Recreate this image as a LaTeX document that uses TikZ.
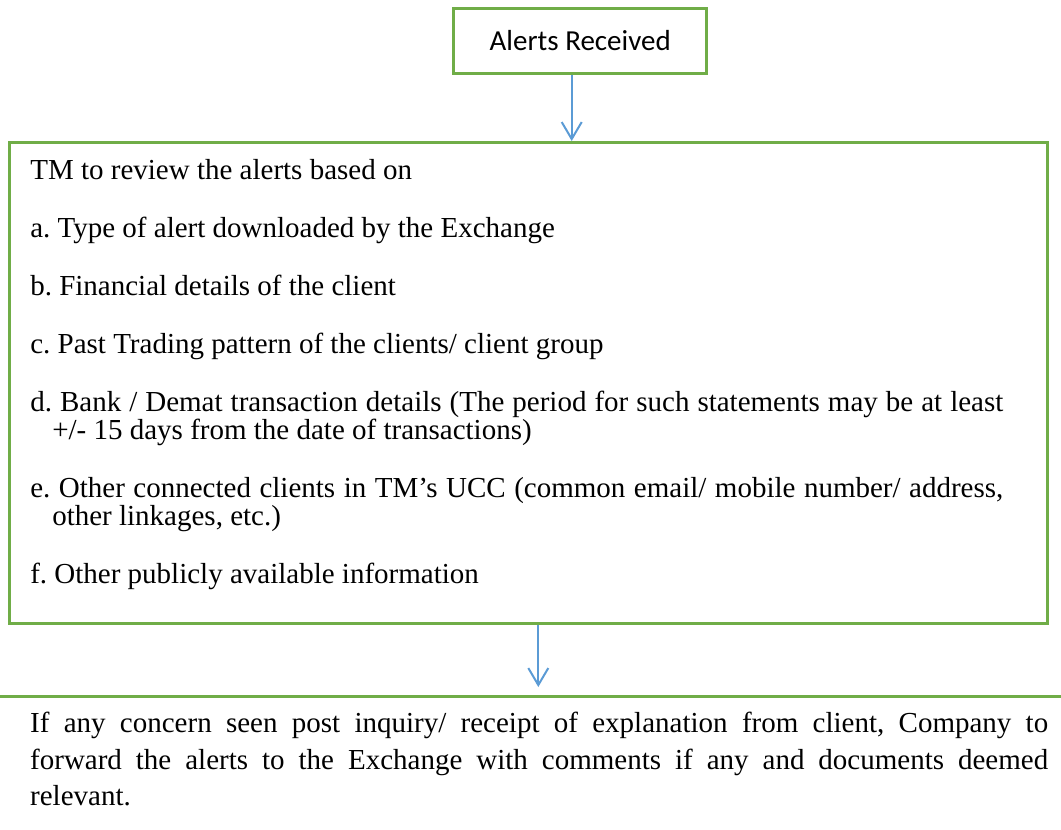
\documentclass[tikz,border=0pt]{standalone}
\usepackage{fontspec}
\setmainfont{Liberation Serif}
\newfontfamily\labelfont{Carlito}
\usetikzlibrary{positioning,calc,arrows.meta}

\definecolor{boxgreen}{RGB}{112,173,71}
\definecolor{flowblue}{RGB}{91,155,213}
\newcommand*{\bodytext}{\fontsize{29}{28}\selectfont}
\newcommand*{\itemline}{\hangindent=22pt\hangafter=1 }
\frenchspacing

\tikzset{
  frame/.style={draw=boxgreen,line width=2.6pt},
  flow/.style={draw=flowblue,line width=2pt,-{Straight Barb[length=17pt,width=20pt]}},
}

\begin{document}
\begin{tikzpicture}[x=1pt,y=-1pt]
\path[use as bounding box] (0,0) coordinate (tl) rectangle (1061,830) coordinate (br);
% Box on top
\node[frame,anchor=north east,minimum width=253pt,minimum height=65pt,font=\labelfont\fontsize{29}{32}\selectfont] (alerts) at (708,7) {Alerts Received};
% Review criteria
\node[frame,anchor=north west,inner xsep=21pt,inner ysep=17pt,font=\bodytext] (review) at (8,141) {%
\begin{minipage}[t][447pt][t]{996pt}
\parskip=30pt \rightskip=23pt
\noindent TM to review the alerts based on\par
\noindent a. Type of alert downloaded by the Exchange\par
\noindent b. Financial details of the client\par
\noindent c. Past Trading pattern of the clients/ client group\par
\noindent\itemline d. Bank / Demat transaction details (The period for such statements may be at least\linebreak
+/- 15 days from the date of transactions)\par
\noindent\itemline e. Other connected clients in TM’s UCC (common email/ mobile number/ address,\linebreak
other linkages, etc.)\par
\noindent f. Other publicly available information\par
\end{minipage}};
% Action taken afterwards
\node[anchor=north west,inner xsep=0pt,inner ysep=16pt,text width=1018pt,align=justify,
      font=\fontsize{29}{36.5}\selectfont] (action) at (30,696) {%
If any concern seen post inquiry/ receipt of explanation from client, Company to\linebreak
forward the alerts to the Exchange with comments if any and documents deemed\linebreak
relevant.};
\draw[frame,line width=3pt] (action.north -| tl) -- (action.north -| br);
% Arrows
\draw[flow] ([xshift=-8.5pt]alerts.south) -- ([xshift=-8.5pt]alerts.south |- review.north);
\draw[flow,shorten >=9pt] ([xshift=10pt]review.south) -- ([xshift=10pt]review.south |- action.north);
\end{tikzpicture}
\end{document}
